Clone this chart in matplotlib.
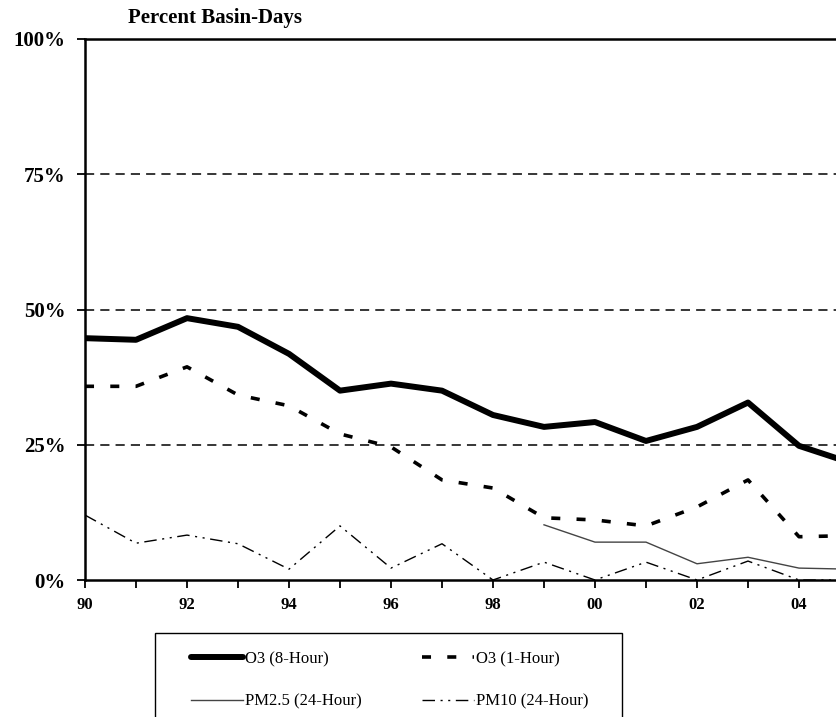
import matplotlib.pyplot as plt
from matplotlib.patches import Rectangle

# yearly share of basin-days above the standard (%)
years = list(range(1990, 2006))
o3_8hr = [44.7, 44.4, 48.4, 46.8, 41.8, 35.0, 36.3, 35.0, 30.5, 28.3, 29.2, 25.7, 28.3, 32.8, 24.8, 21.7]
o3_1hr = [35.8, 35.8, 39.4, 34.2, 32.2, 27.0, 24.6, 18.5, 17.0, 11.5, 11.1, 10.0, 13.5, 18.5, 8.0, 8.2]
pm25_years = list(range(1999, 2006))
pm25 = [10.2, 7.0, 7.0, 3.0, 4.2, 2.2, 2.0]
pm10 = [12.0, 6.8, 8.3, 6.7, 2.0, 10.0, 2.2, 6.7, 0.0, 3.3, 0.0, 3.3, 0.0, 3.5, 0.0, 0.0]

yticks = [0, 25, 50, 75, 100]
ytick_labels = ["0%", "25%", "50%", "75%", "100%"]
xtick_labels = ["90", "92", "94", "96", "98", "00", "02", "04"]

plt.rcParams['font.family'] = ['Liberation Serif', 'DejaVu Serif']

fig = plt.figure(figsize=(8.36, 7.17), dpi=100)
# axes runs a little past the right edge of the figure
ax = fig.add_axes([85 / 836, 1 - 580 / 717, 765 / 836, 541 / 717])

l1, = ax.plot(years, o3_8hr, color="black", lw=4.3, solid_joinstyle="round",
              solid_capstyle="round", label="O3 (8-Hour)", zorder=4)
l2, = ax.plot(years, o3_1hr, color="black", lw=2.6, label="O3 (1-Hour)", zorder=4)
l2.set_dashes((2.5, 4.5))
l3, = ax.plot(pm25_years, pm25, color="#444444", lw=1.0, label="PM2.5 (24-Hour)", zorder=3)
l4, = ax.plot(years, pm10, color="black", lw=1.0, label="PM10 (24-Hour)", zorder=3)
l4.set_dashes((9, 4, 1.5, 4, 1.5, 4))

ax.set_xlim(1990, 2005)
ax.set_ylim(0, 100)
ax.set_yticks(yticks)
ax.set_yticklabels(ytick_labels, fontsize=15, fontweight="bold")
ax.set_xticks(years)
ax.set_xticklabels([xtick_labels[i // 2] if i % 2 == 0 else "" for i in range(len(years))],
                   fontsize=12, fontweight="bold")
ax.tick_params(axis="both", direction="out", length=6, width=1.3, color="black")
ax.tick_params(axis="x", pad=6)
ax.tick_params(axis="y", pad=8)

for v in [25, 50, 75]:
    ax.axhline(v, color="black", lw=1.1, dashes=(6, 4), zorder=1)

for side in ["left", "bottom", "top"]:
    ax.spines[side].set_linewidth(1.8)
ax.spines["right"].set_visible(False)

fig.text(128 / 836, 1 - 18 / 717, "Percent Basin-Days", fontsize=15, fontweight="bold",
         va="center", ha="left")

# legend frame runs off the bottom of the figure
fig.patches.append(Rectangle((155 / 836, -0.05), 467 / 836, 0.05 + 84 / 717,
                             transform=fig.transFigure, fill=False, edgecolor="black",
                             lw=1.0, clip_on=False))
# handles ordered so the rows read 8-Hour/1-Hour then PM2.5/PM10
fig.legend(handles=[l1, l3, l2, l4], ncol=2, loc="upper left",
           bbox_to_anchor=(176 / 836, 1 - 636 / 717), frameon=False,
           fontsize=12, handlelength=3.1, handletextpad=0.15, columnspacing=3.6,
           labelspacing=1.6)

fig.savefig("out.png", dpi=100)
